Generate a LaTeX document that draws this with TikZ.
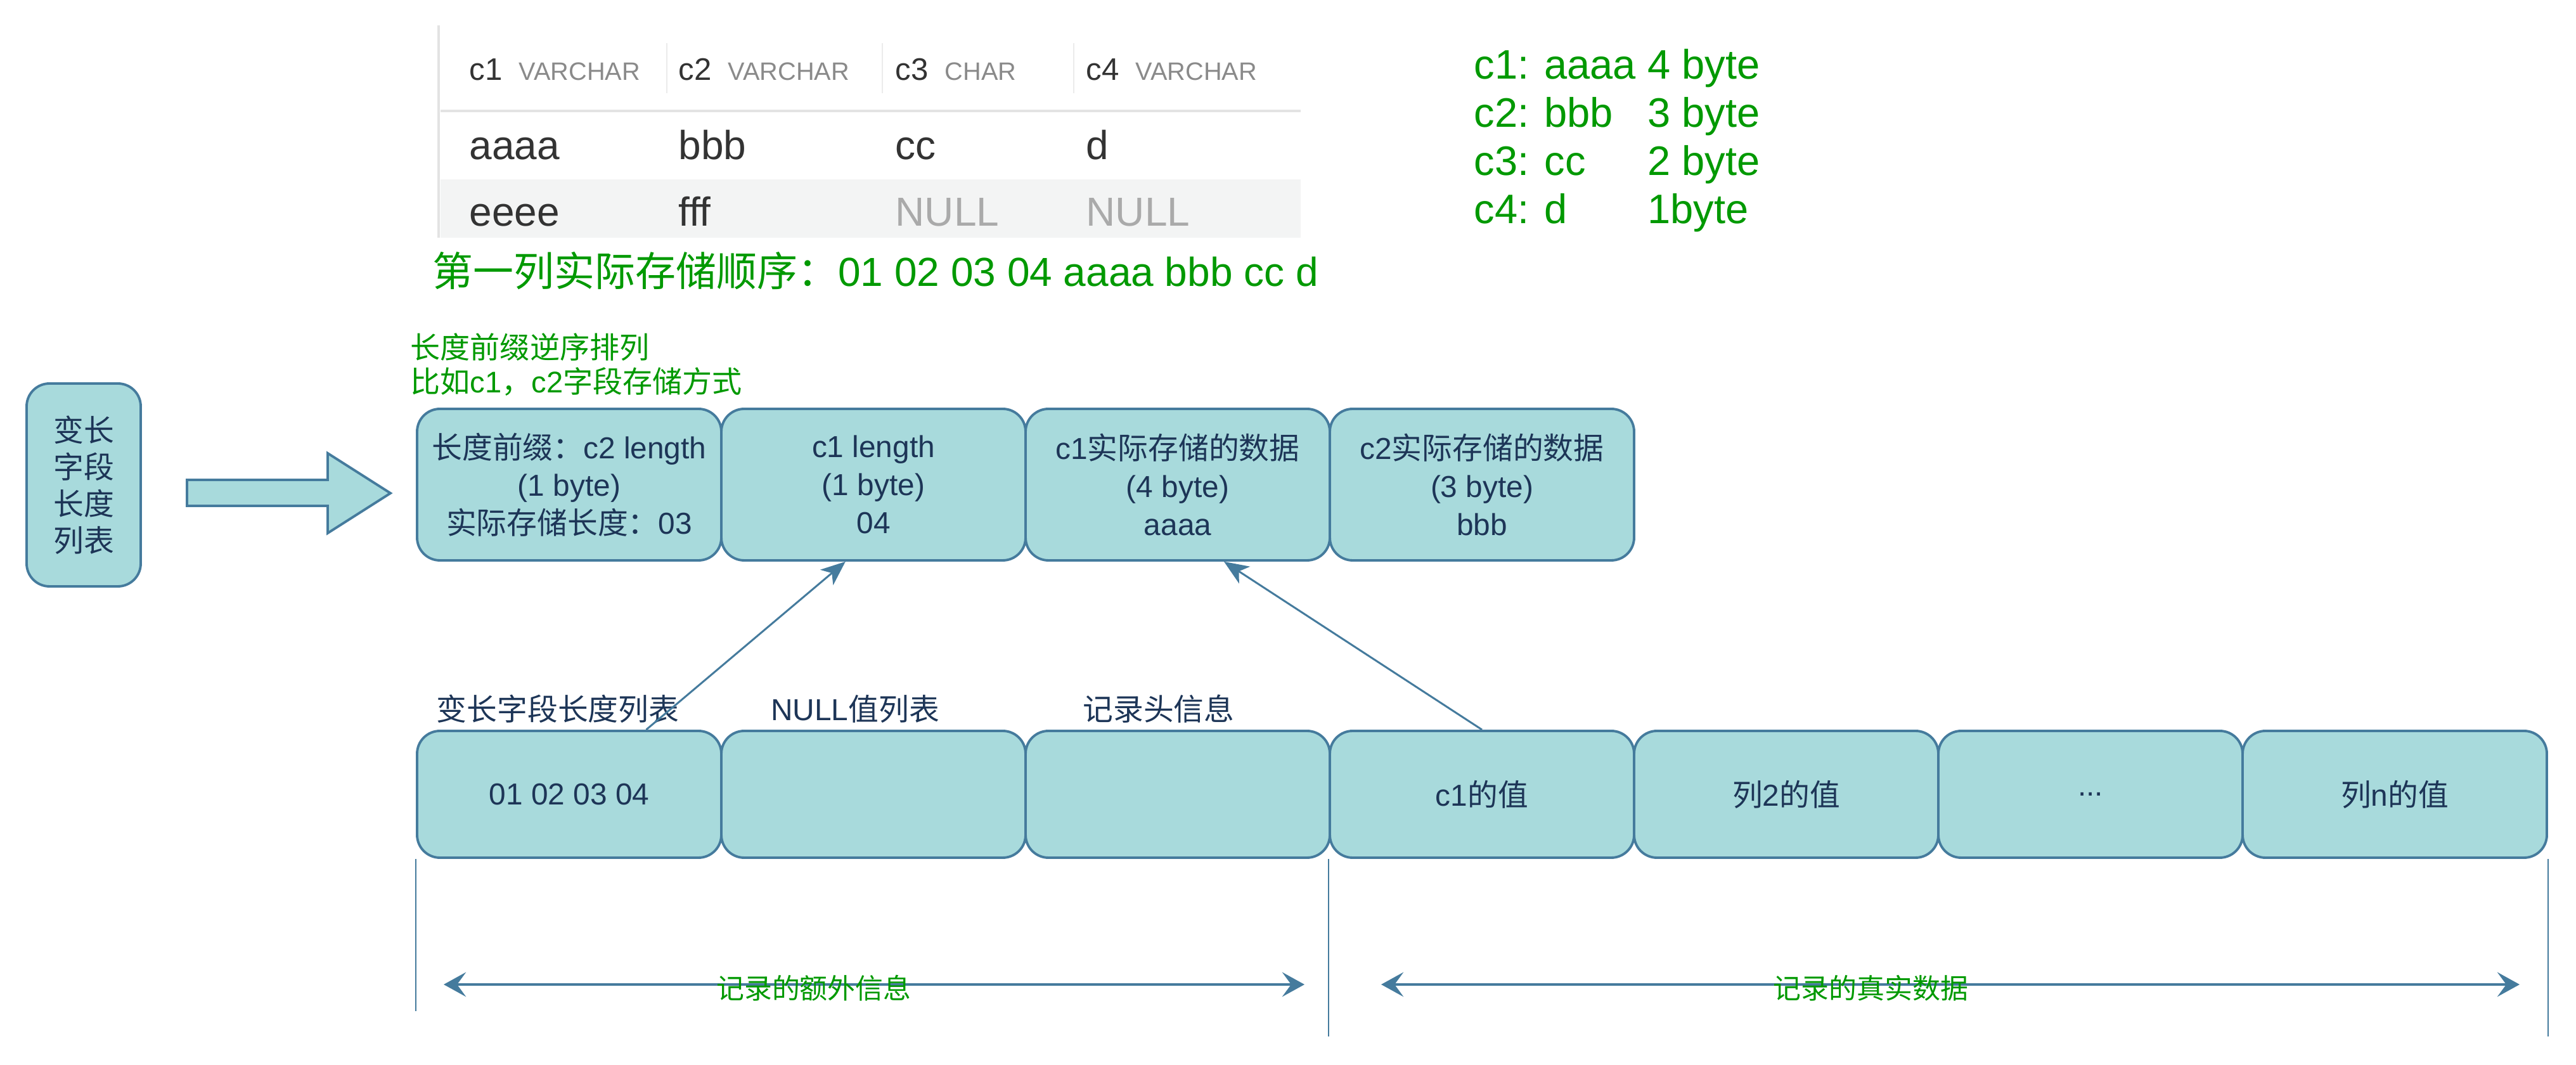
\documentclass[tikz,border=0pt]{standalone}
\usepackage{fontspec}
\setmainfont{Liberation Sans}
\newfontfamily\cjk{Noto Sans CJK SC}
\newcommand{\zh}[1]{{\cjk #1}}
\usetikzlibrary{arrows.meta}
\definecolor{cellfill}{HTML}{A8DADC}
\definecolor{cellline}{HTML}{457B9D}
\definecolor{celltext}{HTML}{1D3557}
\definecolor{notegreen}{HTML}{009900}
\definecolor{gridgray}{HTML}{E3E3E3}
\definecolor{rowgray}{HTML}{F3F4F4}
\definecolor{headgray}{HTML}{8A8A8A}
\definecolor{nullgray}{HTML}{AAAAAA}
\definecolor{datadark}{HTML}{333333}
\newcommand{\cellfont}{\fontsize{13.6}{17}\selectfont}

\begin{document}
\begin{tikzpicture}[
  fieldbox/.style={rectangle, rounded corners=0.36cm, draw=cellline, fill=cellfill, line width=1.1pt, text=celltext, align=center, inner sep=0pt, font=\cellfont},
  toprow/.style={fieldbox, minimum width=4.80cm, minimum height=2.39cm},
  valrow/.style={fieldbox, minimum width=4.80cm, minimum height=2.00cm},
  boxlabel/.style={text=celltext, font=\cellfont, inner sep=0pt},
  notetext/.style={text=notegreen, inner sep=0pt},
  tablehead/.style={anchor=base west, inner sep=0pt, text=datadark, font=\fontsize{14}{14}\selectfont},
  tabledata/.style={anchor=base west, inner sep=0pt, text=datadark, font=\fontsize{18.2}{18.2}\selectfont},
  link/.style={draw=cellline, line width=0.85pt, -{Stealth[length=11pt,width=9pt,inset=3pt]}},
  recspan/.style={draw=cellline, line width=1.1pt, {Stealth[length=10pt,width=11pt,inset=4pt]}-{Stealth[length=10pt,width=11pt,inset=4pt]}},
  guide/.style={draw=cellline, line width=0.6pt},
]
\useasboundingbox (0,0) rectangle (40.64,16.80);

\fill[rowgray] (6.95,13.05) rectangle (20.52,13.97);
\draw[gridgray, line width=1.3pt] (6.92,16.40) -- (6.92,13.05);
\draw[gridgray, line width=1pt] (6.95,15.05) -- (20.52,15.05);
\draw[gridgray!70, line width=0.5pt] (10.52,16.12) -- (10.52,15.33);
\draw[gridgray!70, line width=0.5pt] (13.92,16.12) -- (13.92,15.33);
\draw[gridgray!70, line width=0.5pt] (16.94,16.12) -- (16.94,15.33);
\node[tablehead] (h1) at (7.40,15.53) {c1\hspace{0.26cm}{\fontsize{11.3}{11.3}\selectfont\color{headgray}VARCHAR}};
\node[tablehead] (h2) at (10.70,15.53) {c2\hspace{0.26cm}{\fontsize{11.3}{11.3}\selectfont\color{headgray}VARCHAR}};
\node[tablehead] (h3) at (14.12,15.53) {c3\hspace{0.26cm}{\fontsize{11.3}{11.3}\selectfont\color{headgray}CHAR}};
\node[tablehead] (h4) at (17.13,15.53) {c4\hspace{0.26cm}{\fontsize{11.3}{11.3}\selectfont\color{headgray}VARCHAR}};
\node[tabledata] (r1c1) at (7.40,14.28) {aaaa};
\node[tabledata] (r1c2) at (10.70,14.28) {bbb};
\node[tabledata] (r1c3) at (14.12,14.28) {cc};
\node[tabledata] (r1c4) at (17.13,14.28) {d};
\node[tabledata] (r2c1) at (7.40,13.23) {eeee};
\node[tabledata] (r2c2) at (10.70,13.23) {fff};
\node[tabledata, text=nullgray] (r2c3) at (14.12,13.23) {NULL};
\node[tabledata, text=nullgray] (r2c4) at (17.13,13.23) {NULL};

\node[notetext, anchor=west, font=\fontsize{18.2}{18.2}\selectfont] (order) at (6.82,12.53) {\zh{第一列实际存储顺序：}01 02 03 04 aaaa bbb cc d};
\node[notetext, anchor=base west, font=\fontsize{18.5}{21.6}\selectfont] (sizes) at (23.25,15.55) {\begin{tabular}[t]{@{}l@{\ }l@{}}c1: aaaa & 4 byte\\ c2: bbb & 3 byte\\ c3: cc & 2 byte\\ c4: d & 1byte\end{tabular}};
\node[notetext, anchor=west, align=left, font=\fontsize{13.4}{15.4}\selectfont] (hint) at (6.47,11.05) {\zh{长度前缀逆序排列}\\\zh{比如}c1\zh{，}c2\zh{字段存储方式}};

\node[fieldbox, minimum width=1.80cm, minimum height=3.20cm, font=\fontsize{13.6}{16.5}\selectfont] (vlist) at (1.32,9.15) {\zh{变长}\\\zh{字段}\\\zh{长度}\\\zh{列表}};
\filldraw[fill=cellfill, draw=cellline, line width=1.1pt] (2.95,9.23) -- (5.17,9.23) -- (5.17,9.65) -- (6.16,9.02) -- (5.17,8.39) -- (5.17,8.82) -- (2.95,8.82) -- cycle;

\node[toprow] (t1) at (8.98,9.155) {\zh{长度前缀：}c2 length\\(1 byte)\\\zh{实际存储长度：}03};
\node[toprow] (t2) at (13.78,9.155) {c1 length\\(1 byte)\\04};
\node[toprow] (t3) at (18.58,9.155) {c1\zh{实际存储的数据}\\(4 byte)\\aaaa};
\node[toprow] (t4) at (23.38,9.155) {c2\zh{实际存储的数据}\\(3 byte)\\bbb};

\node[boxlabel] (l1) at (8.80,5.62) {\zh{变长字段长度列表}};
\node[boxlabel] (l2) at (13.49,5.62) {NULL\zh{值列表}};
\node[boxlabel] (l3) at (18.28,5.62) {\zh{记录头信息}};

\node[valrow] (v1) at (8.98,4.27) {01 02 03 04};
\node[valrow] (v2) at (13.78,4.27) {};
\node[valrow] (v3) at (18.58,4.27) {};
\node[valrow] (v4) at (23.38,4.27) {c1\zh{的值}};
\node[valrow] (v5) at (28.18,4.27) {\zh{列}2\zh{的值}};
\node[valrow] (v6) at (32.98,4.27) {...};
\node[valrow] (v7) at (37.78,4.27) {\zh{列}n\zh{的值}};

\draw[link] (v1.40) -- (t2.250);
\draw[link] (v4.north) -- (t3.301);

\draw[guide] (v1.south west) -- ++(0,-2.40);
\draw[guide] (v4.south west) -- ++(0,-2.80);
\draw[guide] (v7.south east) -- ++(0,-2.80);
\coordinate (extraL) at (7.00,1.27);
\coordinate (extraR) at (20.58,1.27);
\coordinate (dataL) at (21.79,1.27);
\coordinate (dataR) at (39.75,1.27);
\draw[recspan] (extraL) -- node[notetext, pos=0.43, yshift=-1.5pt, font=\fontsize{12.5}{12.5}\selectfont] {\zh{记录的额外信息}} (extraR);
\draw[recspan] (dataL) -- node[notetext, pos=0.43, yshift=-1.5pt, font=\fontsize{12.5}{12.5}\selectfont] {\zh{记录的真实数据}} (dataR);
\end{tikzpicture}
\end{document}
